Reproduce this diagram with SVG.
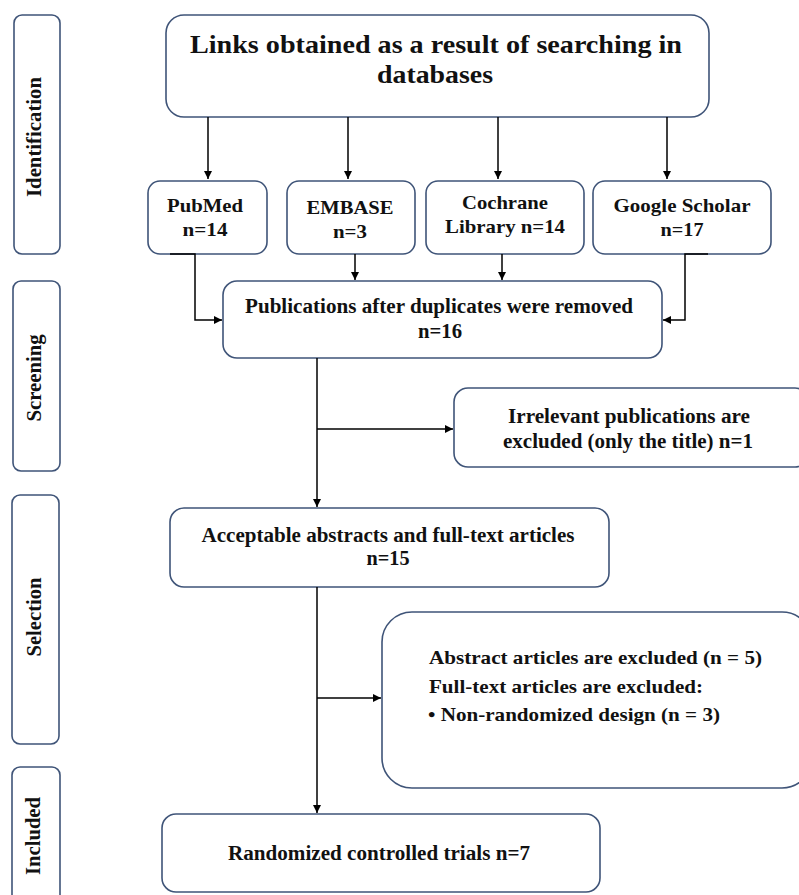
<svg xmlns="http://www.w3.org/2000/svg" width="799" height="895" viewBox="0 0 799 895">
<defs>
<marker id="ah" viewBox="0 0 10 10" refX="10" refY="5" markerWidth="8" markerHeight="8" markerUnits="userSpaceOnUse" orient="auto">
<path d="M0,0 L10,5 L0,10 z" fill="#000"/>
</marker>
<style>
.box{fill:#fff;stroke:#3f5478;stroke-width:1.6}
.t{font-family:"Liberation Serif","Times New Roman",serif;font-weight:bold;fill:#111}
.c{stroke:#000;stroke-width:1.5;fill:none;marker-end:url(#ah)}
</style>
</defs>
<rect width="799" height="895" fill="#fff"/>

<g id="side-identification">
<rect class="box" x="14" y="15" width="46" height="239" rx="8"/>
<text class="t" font-size="20" text-anchor="middle" textLength="120" lengthAdjust="spacingAndGlyphs" transform="translate(41,137) rotate(-90)">Identification</text>
</g>
<g id="side-screening">
<rect class="box" x="13" y="281" width="47" height="190" rx="8"/>
<text class="t" font-size="20" text-anchor="middle" textLength="87" lengthAdjust="spacingAndGlyphs" transform="translate(41,378) rotate(-90)">Screening</text>
</g>
<g id="side-selection">
<rect class="box" x="12" y="495" width="47" height="249" rx="8"/>
<text class="t" font-size="20" text-anchor="middle" textLength="79" lengthAdjust="spacingAndGlyphs" transform="translate(41,617) rotate(-90)">Selection</text>
</g>
<g id="side-included">
<rect class="box" x="12" y="767" width="48" height="150" rx="8"/>
<text class="t" font-size="20" text-anchor="middle" textLength="78" lengthAdjust="spacingAndGlyphs" transform="translate(40,836) rotate(-90)">Included</text>
</g>

<g id="links">
<rect class="box" x="166" y="15" width="543" height="102" rx="18"/>
<text class="t" font-size="25" text-anchor="middle" x="436" y="53" textLength="492" lengthAdjust="spacingAndGlyphs">Links obtained as a result of searching in</text>
<text class="t" font-size="25" text-anchor="middle" x="435" y="83" textLength="116" lengthAdjust="spacingAndGlyphs">databases</text>
</g>

<g id="pubmed">
<rect class="box" x="148" y="181" width="119" height="73" rx="12"/>
<text class="t" font-size="19" text-anchor="middle" x="205" y="212" textLength="76" lengthAdjust="spacingAndGlyphs">PubMed</text>
<text class="t" font-size="19" text-anchor="middle" x="205" y="236" textLength="45" lengthAdjust="spacingAndGlyphs">n=14</text>
</g>
<g id="embase">
<rect class="box" x="287" y="181" width="128" height="73" rx="12"/>
<text class="t" font-size="19" text-anchor="middle" x="350" y="214" textLength="87" lengthAdjust="spacingAndGlyphs">EMBASE</text>
<text class="t" font-size="19" text-anchor="middle" x="350" y="238" textLength="34" lengthAdjust="spacingAndGlyphs">n=3</text>
</g>
<g id="cochrane">
<rect class="box" x="426" y="181" width="158" height="73" rx="12"/>
<text class="t" font-size="19" text-anchor="middle" x="505" y="209" textLength="86" lengthAdjust="spacingAndGlyphs">Cochrane</text>
<text class="t" font-size="19" text-anchor="middle" x="505" y="233" textLength="120" lengthAdjust="spacingAndGlyphs">Library n=14</text>
</g>
<g id="google">
<rect class="box" x="593" y="181" width="178" height="73" rx="12"/>
<text class="t" font-size="19" text-anchor="middle" x="682" y="212" textLength="137" lengthAdjust="spacingAndGlyphs">Google Scholar</text>
<text class="t" font-size="19" text-anchor="middle" x="682" y="236" textLength="43" lengthAdjust="spacingAndGlyphs">n=17</text>
</g>

<g id="publications">
<rect class="box" x="223" y="281" width="439" height="77" rx="14"/>
<text class="t" font-size="20" text-anchor="middle" x="439" y="313" textLength="388" lengthAdjust="spacingAndGlyphs">Publications after duplicates were removed</text>
<text class="t" font-size="20" text-anchor="middle" x="440" y="338" textLength="44" lengthAdjust="spacingAndGlyphs">n=16</text>
</g>

<g id="irrelevant">
<rect class="box" x="454" y="388" width="355" height="79" rx="14"/>
<text class="t" font-size="20" text-anchor="middle" x="629" y="423" textLength="242" lengthAdjust="spacingAndGlyphs">Irrelevant publications are</text>
<text class="t" font-size="20" text-anchor="middle" x="628" y="448" textLength="250" lengthAdjust="spacingAndGlyphs">excluded (only the title) n=1</text>
</g>

<g id="acceptable">
<rect class="box" x="170" y="508" width="439" height="79" rx="14"/>
<text class="t" font-size="20" text-anchor="middle" x="388" y="542" textLength="373" lengthAdjust="spacingAndGlyphs">Acceptable abstracts and full-text articles</text>
<text class="t" font-size="20" text-anchor="middle" x="388" y="565" textLength="43" lengthAdjust="spacingAndGlyphs">n=15</text>
</g>

<g id="excluded">
<rect class="box" x="382" y="612" width="430" height="176" rx="30"/>
<text class="t" font-size="19" x="429" y="664" textLength="333" lengthAdjust="spacingAndGlyphs">Abstract articles are excluded (n = 5)</text>
<text class="t" font-size="19" x="429" y="693" textLength="274" lengthAdjust="spacingAndGlyphs">Full-text articles are excluded:</text>
<text class="t" font-size="19" x="428" y="721" textLength="292" lengthAdjust="spacingAndGlyphs">• Non-randomized design (n = 3)</text>
</g>

<g id="rct">
<rect class="box" x="162" y="814" width="438" height="78" rx="14"/>
<text class="t" font-size="20" text-anchor="middle" x="379" y="860" textLength="302" lengthAdjust="spacingAndGlyphs">Randomized controlled trials n=7</text>
</g>

<g id="connectors">
<line class="c" x1="208" y1="117" x2="208" y2="179"/>
<line class="c" x1="348" y1="117" x2="348" y2="179"/>
<line class="c" x1="498" y1="117" x2="498" y2="179"/>
<line class="c" x1="667" y1="117" x2="667" y2="179"/>
<path class="c" d="M170,254 H195 V320 H222"/>
<line class="c" x1="355" y1="254" x2="355" y2="280"/>
<line class="c" x1="502" y1="254" x2="502" y2="280"/>
<path class="c" d="M708,254 H685 V320 H663"/>
<line class="c" x1="317" y1="358" x2="317" y2="507"/>
<line class="c" x1="317" y1="429" x2="453" y2="429"/>
<line class="c" x1="317" y1="587" x2="317" y2="813"/>
<line class="c" x1="317" y1="698" x2="381" y2="698"/>
</g>
</svg>
